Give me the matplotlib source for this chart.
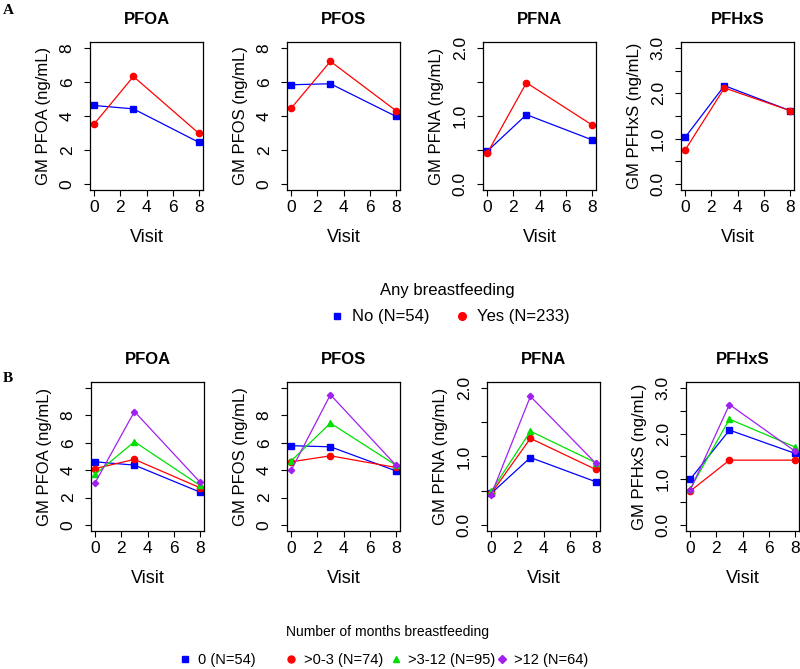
import matplotlib
matplotlib.use("Agg")
import matplotlib.pyplot as plt
from matplotlib.lines import Line2D

plt.rcParams['font.family'] = ['Liberation Sans', 'DejaVu Sans']

# ---- data ----
visits = [0, 3, 8]
chemicals = ["PFOA", "PFOS", "PFNA", "PFHxS"]

# panel A: any breastfeeding (rows = chemicals, cols = visits)
a_no = [[4.62, 4.42, 2.45], [5.84, 5.90, 3.98], [0.48, 1.02, 0.65], [1.03, 2.17, 1.62]]
a_yes = [[3.53, 6.33, 2.98], [4.46, 7.22, 4.32], [0.45, 1.49, 0.87], [0.75, 2.12, 1.62]]

# panel B: months of breastfeeding
b_0 = [[4.61, 4.37, 2.40], [5.79, 5.71, 3.95], [0.46, 0.985, 0.63], [1.00, 2.08, 1.57]]
b_0_3 = [[4.12, 4.79, 2.72], [4.61, 5.05, 4.20], [0.46, 1.265, 0.81], [0.74, 1.42, 1.42]]
b_3_12 = [[3.70, 6.08, 2.89], [4.68, 7.44, 4.37], [0.49, 1.37, 0.91], [0.79, 2.32, 1.71]]
b_12 = [[3.09, 8.29, 3.14], [4.00, 9.52, 4.37], [0.44, 1.88, 0.90], [0.76, 2.64, 1.62]]

a_labels = ["No (N=54)", "Yes (N=233)"]
b_labels = ["0 (N=54)", ">0-3 (N=74)", ">3-12 (N=95)", ">12 (N=64)"]

ymax_a = [8, 8, 2, 3]
ymax_b = [10, 10, 2, 3]

colors = ["#0000FF", "#FF0000", "#00E000", "#A020F0"]
markers = ["s", "o", "^", "D"]
msizes = [4, 4.5, 4.5, 3.2]

W, H = 800, 669
fig = plt.figure(figsize=(W / 100, H / 100), dpi=100)


def make_axes(left_px, top_px, bottom_px, width_px=113):
    return fig.add_axes([left_px / W, 1 - bottom_px / H, width_px / W, (bottom_px - top_px) / H])


def style_axes(ax, name, ymax):
    step = 2 if ymax >= 8 else 0.5
    ticks = [i * step for i in range(int(round(ymax / step)) + 1)]
    if ymax >= 8:
        labels = ["%d" % t if t < 10 else "" for t in ticks]
    else:
        labels = ["%.1f" % t if abs(t - round(t)) < 1e-9 else "" for t in ticks]
    ax.set_yticks(ticks)
    ax.set_yticklabels(labels)
    ax.set_ylim(-0.045 * ymax, ymax * 1.045)
    ax.set_xlim(-0.32, 8.32)
    ax.set_xticks([0, 2, 4, 6, 8])
    ax.tick_params(axis="both", length=4, width=0.8, labelsize=12.5, direction="out")
    ax.tick_params(axis="y", pad=7)
    ax.tick_params(axis="x", pad=3)
    for lbl in ax.get_yticklabels():
        lbl.set_rotation(90)
        lbl.set_va("center")
    for sp in ax.spines.values():
        sp.set_linewidth(0.9)
    ax.set_title(name, fontweight="bold", fontsize=12, pad=13)
    ax.set_xlabel("Visit", fontsize=13, labelpad=10)
    ax.set_ylabel("GM %s (ng/mL)" % name, fontsize=12, labelpad=6)


# ---- panel A ----
lefts_a = [90, 287, 483, 681]
for i, name in enumerate(chemicals):
    ax = make_axes(lefts_a[i], 42, 190)
    for j, series in enumerate([a_no, a_yes]):
        ax.plot(visits, series[i], color=colors[j], marker=markers[j], ms=msizes[j], lw=0.9)
    style_axes(ax, name, ymax_a[i])

# ---- panel B ----
lefts_b = [91, 287, 487, 686]
for i, name in enumerate(chemicals):
    ax = make_axes(lefts_b[i], 382, 531)
    for j, series in enumerate([b_0, b_0_3, b_3_12, b_12]):
        ax.plot(visits, series[i], color=colors[j], marker=markers[j], ms=msizes[j], lw=0.9)
    style_axes(ax, name, ymax_b[i])

fig.text(8 / W, 1 - 10 / H, "A", family=["Liberation Serif", "DejaVu Serif"],
         fontweight="bold", fontsize=11, ha="center", va="center")
fig.text(8 / W, 1 - 378 / H, "B", family=["Liberation Serif", "DejaVu Serif"],
         fontweight="bold", fontsize=11, ha="center", va="center")

# ---- legend A ----
fig.text(447 / W, 1 - 290 / H, "Any breastfeeding", fontsize=12, ha="center", va="center")
handles_a = [Line2D([], [], ls="none", color=colors[j], marker=markers[j], ms=msizes[j] + 1)
             for j in range(2)]
fig.legend(handles_a, a_labels, ncol=2, loc="center", bbox_to_anchor=(450 / W, 1 - 317 / H),
           frameon=False, fontsize=12, handlelength=0.8, handletextpad=0.5,
           columnspacing=1.5, borderpad=0, borderaxespad=0)

# ---- legend B (equally spaced entries) ----
fig.text(387 / W, 1 - 632 / H, "Number of months breastfeeding", fontsize=10,
         ha="center", va="center")
b_x = [185, 291, 396, 502]
for j in range(4):
    h = Line2D([], [], ls="none", color=colors[j], marker=markers[j], ms=msizes[j] + 0.5)
    fig.legend([h], [b_labels[j]], loc="center left", bbox_to_anchor=((b_x[j] - 5) / W, 1 - 660 / H),
               frameon=False, fontsize=10.5, handlelength=0.75, handletextpad=0.45,
               borderpad=0, borderaxespad=0)

fig.savefig("out.png", dpi=100)
